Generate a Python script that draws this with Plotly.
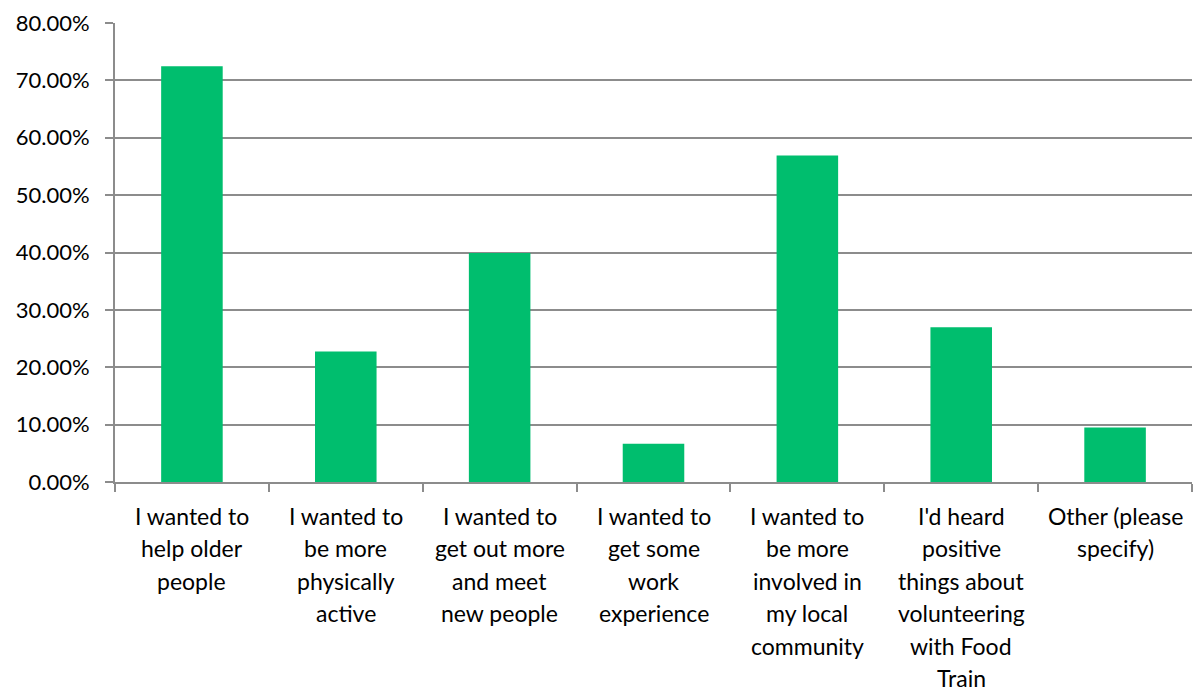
import plotly.graph_objects as go

# Survey responses: reasons for volunteering (share of respondents)
categories = [
    "I wanted to help older people",
    "I wanted to be more physically active",
    "I wanted to get out more and meet new people",
    "I wanted to get some work experience",
    "I wanted to be more involved in my local community",
    "I'd heard positive things about volunteering with Food Train",
    "Other (please specify)",
]
label_lines = [
    ["I wanted to", "help older", "people"],
    ["I wanted to", "be more", "physically", "active"],
    ["I wanted to", "get out more", "and meet", "new people"],
    ["I wanted to", "get some", "work", "experience"],
    ["I wanted to", "be more", "involved in", "my local", "community"],
    ["I'd heard", "positive", "things about", "volunteering", "with Food", "Train"],
    ["Other (please", "specify)"],
]
values = [0.7245, 0.2275, 0.399, 0.0665, 0.569, 0.2695, 0.095]
y_ticks = [0.0, 0.1, 0.2, 0.3, 0.4, 0.5, 0.6, 0.7, 0.8]

FONT = "Lato"
GRID = "#8c8c8c"

fig = go.Figure(
    go.Bar(
        x=categories,
        y=values,
        marker=dict(color="#00BE6E", line=dict(width=0)),
        hoverinfo="skip",
    )
)

# Multi-line category labels under each bar
annotations = []
for cat, lines in zip(categories, label_lines):
    for i, line in enumerate(lines):
        annotations.append(
            dict(
                x=cat,
                xref="x",
                y=0,
                yref="paper",
                yanchor="middle",
                yshift=-(34 + i * 32.4),
                text=line,
                showarrow=False,
                font=dict(family=FONT, size=23, color="#000000"),
            )
        )

fig.update_layout(
    width=1201,
    height=691,
    margin=dict(l=115, r=9, t=20, b=209),
    paper_bgcolor="white",
    plot_bgcolor="white",
    bargap=0.6,
    showlegend=False,
    annotations=annotations,
    font=dict(family=FONT, size=22, color="#000000"),
)

fig.update_xaxes(
    showticklabels=False,
    showline=True,
    linecolor=GRID,
    linewidth=2,
    ticks="outside",
    tickson="boundaries",
    ticklen=8,
    tickwidth=2,
    tickcolor=GRID,
    showgrid=False,
)

fig.update_yaxes(
    range=[0, 0.8],
    tickvals=y_ticks,
    tickformat=".2%",
    showline=True,
    linecolor=GRID,
    linewidth=2,
    ticks="outside",
    ticklen=8,
    tickwidth=2,
    tickcolor=GRID,
    showgrid=True,
    gridcolor=GRID,
    gridwidth=2,
    zeroline=False,
    ticklabelstandoff=11,
    tickfont=dict(family=FONT, size=22, color="#000000"),
)

fig.write_html("out.html")
